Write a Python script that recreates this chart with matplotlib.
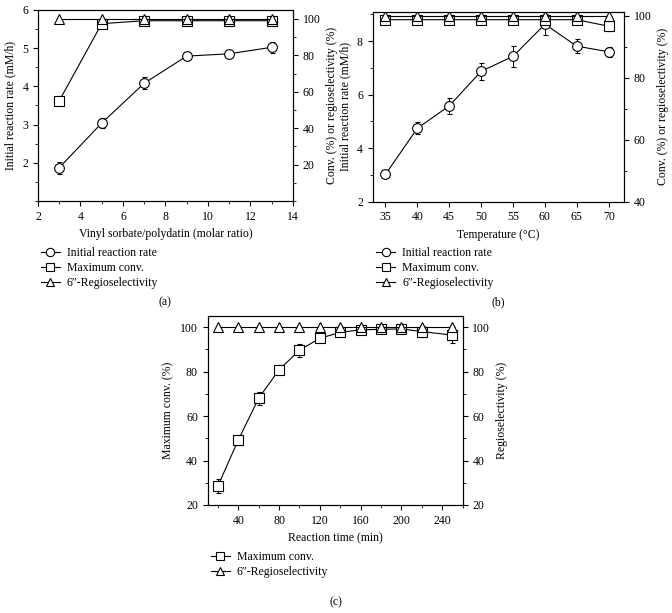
import numpy as np
import matplotlib
matplotlib.use("Agg")
import matplotlib.pyplot as plt
from matplotlib.lines import Line2D
from matplotlib.ticker import MultipleLocator, AutoMinorLocator

plt.rcParams['font.family'] = ['Liberation Serif', 'DejaVu Serif']
plt.rcParams['mathtext.fontset'] = 'stix'
plt.rcParams['font.size'] = 8.5
plt.rcParams['xtick.direction'] = 'out'
plt.rcParams['ytick.direction'] = 'out'
plt.rcParams['xtick.major.size'] = 3.5
plt.rcParams['ytick.major.size'] = 3.5
plt.rcParams['xtick.minor.size'] = 2
plt.rcParams['ytick.minor.size'] = 2
plt.rcParams['axes.linewidth'] = 0.8

# ── (a) molar ratio ──
ratio = [3, 5, 7, 9, 11, 13]
rate_a = [1.87, 3.04, 4.08, 4.79, 4.85, 5.02]
rate_a_err = [0.15, 0.12, 0.16, 0.10, 0.09, 0.15]
conv_a = [55.0, 97.4, 99.0, 99.0, 99.0, 99.0]
conv_a_err = [2.5, 1.0, 0.6, 0.6, 0.6, 0.6]
regio_a = [100, 100, 100, 100, 100, 100]

# ── (b) temperature ──
temp = [35, 40, 45, 50, 55, 60, 65, 70]
rate_b = [3.02, 4.74, 5.58, 6.87, 7.43, 8.63, 7.81, 7.60]
rate_b_err = [0.12, 0.22, 0.30, 0.33, 0.38, 0.40, 0.26, 0.18]
conv_b = [98.7, 98.7, 98.7, 98.7, 98.7, 98.7, 98.7, 96.6]
conv_b_err = [0.6, 0.6, 0.6, 0.6, 0.6, 0.6, 0.6, 1.4]
regio_b = [100, 100, 100, 100, 100, 100, 100, 100]

# ── (c) reaction time ──
time_c = [20, 40, 60, 80, 100, 120, 140, 160, 180, 200, 220, 250]
conv_c = [28.5, 49.2, 68.0, 80.8, 89.6, 95.0, 97.6, 98.8, 99.0, 99.2, 98.0, 96.4]
conv_c_err = [3.0, 2.2, 3.0, 2.0, 3.0, 1.0, 1.5, 1.0, 1.0, 1.5, 2.5, 3.5]
regio_c = [100] * 12

lab_rate = 'Initial reaction rate'
lab_conv = 'Maximum conv.'
lab_regio = '6\u2033-Regioselectivity'

mk = dict(color='black', lw=0.8, mfc='white', mec='black', mew=0.8,
          ms=7, elinewidth=0.7, capsize=1.8, capthick=0.7)


def handle(m):
    return Line2D([], [], color='black', lw=0.8, marker=m, mfc='white',
                  mec='black', mew=0.8, ms=6)


leg_kw = dict(loc='upper left', frameon=False, fontsize=8.5,
              handlelength=1.6, handletextpad=0.6, labelspacing=0.25)

fig = plt.figure(figsize=(6.72, 6.13), dpi=100)


def minors(ax, ax2, xminor=True):
    for a in (ax, ax2):
        a.yaxis.set_minor_locator(AutoMinorLocator(2))
        a.tick_params(labelsize=8.5)
    if xminor:
        ax.xaxis.set_minor_locator(AutoMinorLocator(2))


# (a)
axa = fig.add_axes([0.0565, 0.672, 0.3795, 0.312])
axa2 = axa.twinx()
axa.errorbar(ratio, rate_a, yerr=rate_a_err, marker='o', **mk)
axa2.errorbar(ratio, conv_a, yerr=conv_a_err, marker='s', **mk)
axa2.errorbar(ratio, regio_a, marker='^', **mk)
axa.set_xlim(2, 14)
axa.set_ylim(1, 6)
axa2.set_ylim(0, 105)
axa.xaxis.set_major_locator(MultipleLocator(2))
axa.set_yticks([2, 3, 4, 5, 6])
axa2.set_yticks([20, 40, 60, 80, 100])
axa.set_xlabel('Vinyl sorbate/polydatin (molar ratio)', fontsize=8.5)
axa.set_ylabel('Initial reaction rate (mM/h)', fontsize=8.5)
axa2.set_ylabel('Conv. (%) or regioselectivity (%)', fontsize=8.5)
minors(axa, axa2)
fig.legend([handle('o'), handle('s'), handle('^')],
           [lab_rate, lab_conv, lab_regio],
           bbox_to_anchor=(0.045, 0.614), **leg_kw)
fig.text(0.245, 0.507, '(a)', ha='center', va='center', fontsize=8.5)

# (b)
axb = fig.add_axes([0.5546, 0.671, 0.374, 0.310])
axb2 = axb.twinx()
axb.errorbar(temp, rate_b, yerr=rate_b_err, marker='o', **mk)
axb2.errorbar(temp, conv_b, yerr=conv_b_err, marker='s', **mk)
axb2.errorbar(temp, regio_b, marker='^', **mk)
axb.set_xlim(33, 72.4)
axb.set_ylim(2, 9.1)
axb2.set_ylim(40, 101.3)
axb.set_xticks(temp)
axb.set_yticks([2, 4, 6, 8])
axb2.set_yticks([40, 60, 80, 100])
axb.set_xlabel('Temperature (\u00b0C)', fontsize=8.5)
axb.set_ylabel('Initial reaction rate (mM/h)', fontsize=8.5)
axb2.set_ylabel('Conv. (%) or regioselectivity (%)', fontsize=8.5)
minors(axb, axb2, xminor=False)
fig.legend([handle('o'), handle('s'), handle('^')],
           [lab_rate, lab_conv, lab_regio],
           bbox_to_anchor=(0.544, 0.614), **leg_kw)
fig.text(0.741, 0.507, '(b)', ha='center', va='center', fontsize=8.5)

# (c)
axc = fig.add_axes([0.309, 0.1762, 0.3795, 0.3083])
axc2 = axc.twinx()
axc.errorbar(time_c, conv_c, yerr=conv_c_err, marker='s', **mk)
axc2.errorbar(time_c, regio_c, marker='^', **mk)
axc.set_xlim(10, 260)
axc.set_ylim(20, 105)
axc2.set_ylim(20, 105)
axc.set_xticks([40, 80, 120, 160, 200, 240])
axc.set_yticks([20, 40, 60, 80, 100])
axc2.set_yticks([20, 40, 60, 80, 100])
axc.set_xlabel('Reaction time (min)', fontsize=8.5)
axc.set_ylabel('Maximum conv. (%)', fontsize=8.5)
axc2.set_ylabel('Regioselectivity (%)', fontsize=8.5)
minors(axc, axc2)
fig.legend([handle('s'), handle('^')], [lab_conv, lab_regio],
           bbox_to_anchor=(0.298, 0.118), **leg_kw)
fig.text(0.5, 0.018, '(c)', ha='center', va='center', fontsize=8.5)

fig.savefig("out.png", dpi=100)
